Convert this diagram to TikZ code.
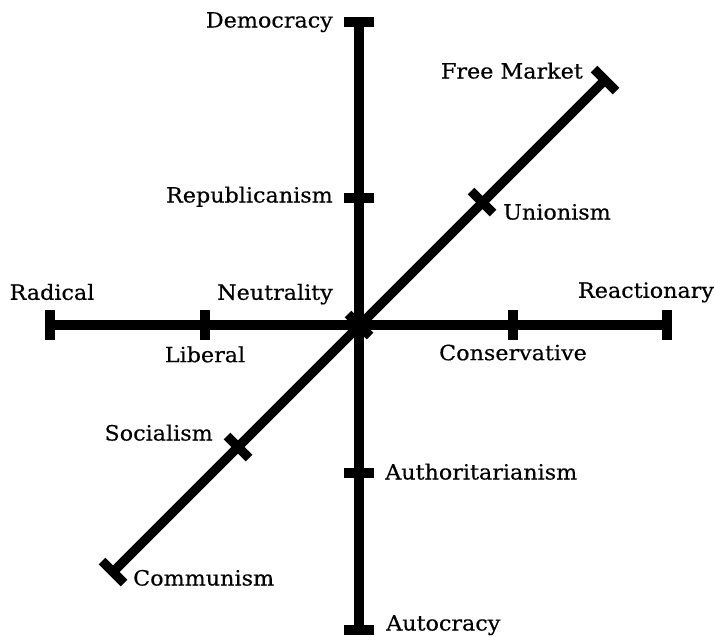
\documentclass[tikz,border=0pt]{standalone}
\usepackage{fontspec}
\setmainfont{DejaVu Serif}[FakeStretch=1.06,FakeBold=0.4]
\usetikzlibrary{positioning}

\begin{document}
\begin{tikzpicture}[x=1pt,y=-1pt,
 axis/.style={line width=9.5pt,black},
 tick/.style={line width=9.5pt,black},
 lbl/.style={inner sep=0pt,text height=15pt,text depth=0pt,
   font=\fontsize{21}{24}\selectfont}]
 \useasboundingbox (0,0) rectangle (715,637);
 % axis points
 \coordinate (ctr) at (359,325);
 \coordinate (dem) at (359,22);   \coordinate (rep) at (359,198);
 \coordinate (auth) at (359,473); \coordinate (aut) at (359,630);
 \coordinate (rad) at (50,325);   \coordinate (lib) at (205,325);
 \coordinate (con) at (513,325);  \coordinate (rea) at (667,325);
 \coordinate (com) at (113,572);  \coordinate (soc) at (238,447);
 \coordinate (uni) at (482,202);  \coordinate (fm) at (605,80);
 \draw[axis] (dem)--(aut);
 \draw[axis] (rad)--(rea);
 \draw[axis] (com)--(fm);
 % ticks
 \foreach \p in {dem,rep,auth,aut}
   \draw[tick] ([xshift=-15pt]\p)--([xshift=15pt]\p);
 \foreach \p in {rad,lib,con,rea}
   \draw[tick] ([yshift=-15pt]\p)--([yshift=15pt]\p);
 \foreach \p in {com,soc,ctr,uni,fm}
   \draw[tick] ([shift={(-11pt,11pt)}]\p)--([shift={(11pt,-11pt)}]\p);
 % labels
 \node[lbl,left=26pt of dem,yshift=2pt] (ldem) {Democracy};
 \node[lbl,left=26pt of rep,yshift=3pt] (lrep) {Republicanism};
 \node[lbl,right=26pt of auth,yshift=1pt] (lauth) {Authoritarianism};
 \node[lbl,right=27pt of aut,yshift=7pt] (laut) {Autocracy};
 \node[lbl,above=25pt of rad,xshift=2pt] (lrad) {Radical};
 \node[lbl,above left=25pt and 26pt of ctr] (lneu) {Neutrality};
 \node[lbl,below=22pt of lib] (llib) {Liberal};
 \node[lbl,below=20pt of con] (lcon) {Conservative};
 \node[lbl,above=27pt of rea,xshift=-21pt] (lrea) {Reactionary};
 \node[lbl,left=22pt of fm,yshift=9pt] (lfm) {Free Market};
 \node[lbl,right=21pt of uni,yshift=-10pt] (luni) {Unionism};
 \node[lbl,left=25pt of soc,yshift=14pt] (lsoc) {Socialism};
 \node[lbl,right=20pt of com,yshift=-6pt] (lcom) {Communism};
\end{tikzpicture}
\end{document}
